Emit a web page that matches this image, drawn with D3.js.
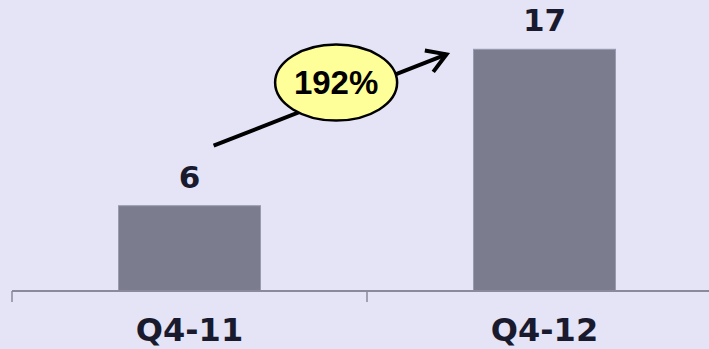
<!DOCTYPE html>
<html>
<head>
<meta charset="utf-8">
<script src="https://cdn.jsdelivr.net/npm/d3@7"></script>
<style>
  html, body { margin: 0; padding: 0; background: #e4e4f6; }
  svg { display: block; }
</style>
</head>
<body>
<svg id="chart" width="709" height="349"></svg>
<script>
// Quarterly totals
const categories = ["Q4-11", "Q4-12"];
const values = [6, 17];
const growthLabel = "192%";

const W = 709, H = 349;
const svg = d3.select("#chart");

svg.append("rect").attr("width", W).attr("height", H).attr("fill", "#e4e4f6");

const x = d3.scaleBand()
  .domain(categories)
  .range([12, 722])
  .paddingInner(0.6)
  .paddingOuter(0.3);

const y = d3.scaleLinear()
  .domain([0, 17])
  .range([291, 49.3]);

// bars
svg.selectAll("rect.bar")
  .data(values)
  .join("rect")
  .attr("class", "bar")
  .attr("x", (d, i) => x(categories[i]))
  .attr("y", d => y(d))
  .attr("width", x.bandwidth())
  .attr("height", d => y(0) - y(d))
  .attr("fill", "#7c7c8f")
  .attr("stroke", "#9a9ab0")
  .attr("stroke-width", 1);

// category axis: baseline with tick marks at band boundaries
const axisColor = "#8a8a9c";
svg.append("line")
  .attr("x1", x.range()[0]).attr("x2", W)
  .attr("y1", y(0)).attr("y2", y(0))
  .attr("stroke", axisColor).attr("stroke-width", 2);

const step = x.step();
const boundaries = d3.range(categories.length + 1).map(i => x.range()[0] + i * step);
svg.selectAll("line.tick")
  .data(boundaries)
  .join("line")
  .attr("class", "tick")
  .attr("x1", d => d).attr("x2", d => d)
  .attr("y1", y(0)).attr("y2", y(0) + 11)
  .attr("stroke", axisColor).attr("stroke-width", 1.5);

svg.selectAll("text.cat")
  .data(categories)
  .join("text")
  .attr("class", "cat")
  .attr("x", d => x(d) + x.bandwidth() / 2)
  .attr("y", 341)
  .attr("text-anchor", "middle")
  .attr("font-family", "DejaVu Sans, Verdana, sans-serif")
  .attr("font-weight", "bold")
  .attr("font-size", 32)
  .attr("fill", "#1a1a2e")
  .text(d => d);

// value labels
svg.selectAll("text.val")
  .data(values)
  .join("text")
  .attr("class", "val")
  .attr("x", (d, i) => x(categories[i]) + x.bandwidth() / 2)
  .attr("y", d => y(d) - 18)
  .attr("text-anchor", "middle")
  .attr("font-family", "DejaVu Sans, Verdana, sans-serif")
  .attr("font-weight", "bold")
  .attr("font-size", 31)
  .attr("fill", "#1a1a2e")
  .text(d => d);

// growth arrow between the two bars
const x0 = x(categories[0]) + x.bandwidth() * 0.67, y0 = y(values[0]) - 60;
const x1 = x(categories[1]) - 27, y1 = y(values[1]) + 5;

const ang = Math.atan2(y1 - y0, x1 - x0);
const head = 22, spread = 0.55;
svg.append("line")
  .attr("x1", x0).attr("y1", y0).attr("x2", x1).attr("y2", y1)
  .attr("stroke", "#000").attr("stroke-width", 4);
svg.append("path")
  .attr("d", `M${x1 - head * Math.cos(ang - spread)},${y1 - head * Math.sin(ang - spread)}
              L${x1},${y1}
              L${x1 - head * Math.cos(ang + spread)},${y1 - head * Math.sin(ang + spread)}`)
  .attr("fill", "none").attr("stroke", "#000").attr("stroke-width", 4)
  .attr("stroke-linejoin", "miter");

// growth bubble
const cx = x0 + (x1 - x0) * 0.526, cy = y0 + (y1 - y0) * 0.526 - 15;
svg.append("ellipse")
  .attr("cx", cx).attr("cy", cy)
  .attr("rx", 61).attr("ry", 38)
  .attr("fill", "#ffff99")
  .attr("stroke", "#000").attr("stroke-width", 2.5);
svg.append("text")
  .attr("x", cx).attr("y", cy + 11)
  .attr("text-anchor", "middle")
  .attr("font-family", "Liberation Sans, Arial, sans-serif")
  .attr("font-weight", "bold")
  .attr("font-size", 33)
  .attr("fill", "#000")
  .text(growthLabel);
</script>
</body>
</html>
